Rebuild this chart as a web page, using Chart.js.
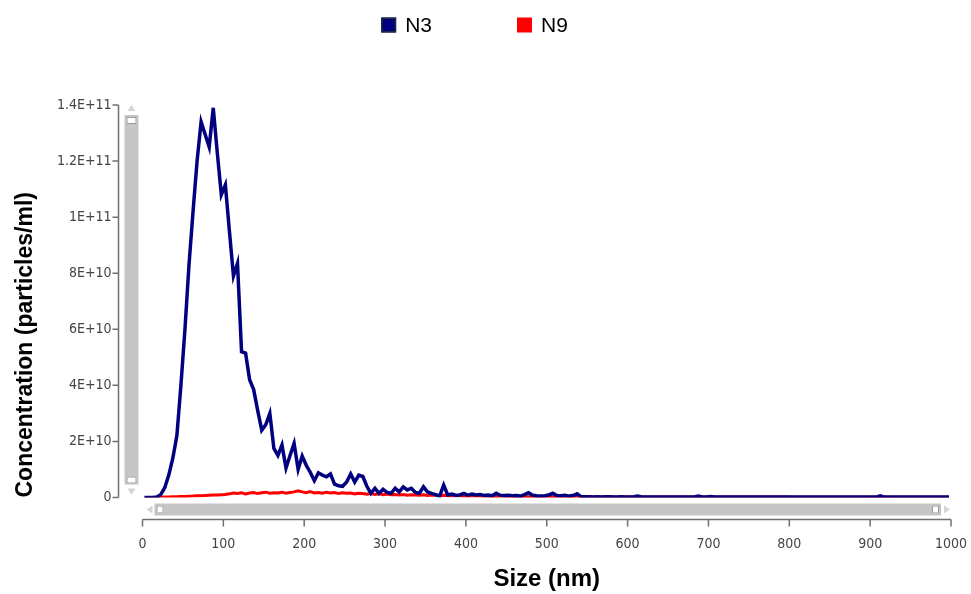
<!DOCTYPE html>
<html>
<head>
<meta charset="utf-8">
<script src="https://cdn.jsdelivr.net/npm/chart.js@4"></script>
<style>
  html, body { margin: 0; padding: 0; background: #fff; }
  #wrap { width: 971px; height: 594px; }
</style>
</head>
<body>
<div id="wrap"><canvas id="myChart" width="971" height="594"></canvas></div>
<script>
// Size bins (nm, bin centres)
const sizes = [
  2.5, 7.5, 12.5, 17.5, 22.5, 27.5, 32.5, 37.5, 42.5, 47.5, 52.5, 57.5, 62.5, 67.5, 72.5, 77.5, 82.5, 87.5, 92.5, 97.5,
  102.5, 107.5, 112.5, 117.5, 122.5, 127.5, 132.5, 137.5, 142.5, 147.5, 152.5, 157.5, 162.5, 167.5, 172.5, 177.5, 182.5, 187.5, 192.5, 197.5,
  202.5, 207.5, 212.5, 217.5, 222.5, 227.5, 232.5, 237.5, 242.5, 247.5, 252.5, 257.5, 262.5, 267.5, 272.5, 277.5, 282.5, 287.5, 292.5, 297.5,
  302.5, 307.5, 312.5, 317.5, 322.5, 327.5, 332.5, 337.5, 342.5, 347.5, 352.5, 357.5, 362.5, 367.5, 372.5, 377.5, 382.5, 387.5, 392.5, 397.5,
  402.5, 407.5, 412.5, 417.5, 422.5, 427.5, 432.5, 437.5, 442.5, 447.5, 452.5, 457.5, 462.5, 467.5, 472.5, 477.5, 482.5, 487.5, 492.5, 497.5,
  502.5, 507.5, 512.5, 517.5, 522.5, 527.5, 532.5, 537.5, 542.5, 547.5, 552.5, 557.5, 562.5, 567.5, 572.5, 577.5, 582.5, 587.5, 592.5, 597.5,
  602.5, 607.5, 612.5, 617.5, 622.5, 627.5, 632.5, 637.5, 642.5, 647.5, 652.5, 657.5, 662.5, 667.5, 672.5, 677.5, 682.5, 687.5, 692.5, 697.5,
  702.5, 707.5, 712.5, 717.5, 722.5, 727.5, 732.5, 737.5, 742.5, 747.5, 752.5, 757.5, 762.5, 767.5, 772.5, 777.5, 782.5, 787.5, 792.5, 797.5,
  802.5, 807.5, 812.5, 817.5, 822.5, 827.5, 832.5, 837.5, 842.5, 847.5, 852.5, 857.5, 862.5, 867.5, 872.5, 877.5, 882.5, 887.5, 892.5, 897.5,
  902.5, 907.5, 912.5, 917.5, 922.5, 927.5, 932.5, 937.5, 942.5, 947.5, 952.5, 957.5, 962.5, 967.5, 972.5, 977.5, 982.5, 987.5, 992.5, 997.5
];

// Concentration in units of 1E+9 particles/ml
const n3 = [
  0, 0, 0, 0.2, 1, 3.5, 8, 14, 22, 40, 60, 83, 102, 120, 134, 129.5, 125, 139, 123, 108,
  111.5, 95, 79, 83.5, 52, 51.5, 42, 38.5, 31, 24, 26, 30, 17.5, 15, 18.7, 10.5, 15, 19.3, 10, 14.8,
  11.5, 9, 6, 8.8, 8, 7.4, 8.4, 4.8, 4.2, 4, 5.5, 8.4, 5.5, 8, 7.5, 4, 1.5, 3.3, 1.5, 2.9,
  1.8, 1.5, 3.3, 2, 3.8, 2.7, 3.3, 1.8, 1.5, 3.8, 2, 1.5, 1, 0.5, 4.4, 0.9, 1.2, 0.8, 0.9, 1.5,
  0.8, 1.2, 0.9, 1.1, 0.7, 0.9, 0.6, 1.5, 0.8, 0.7, 0.8, 0.6, 0.7, 0.5, 1.0, 1.7, 0.8, 0.6, 0.5, 0.6,
  0.9, 1.5, 0.7, 0.6, 0.8, 0.5, 0.7, 1.3, 0.3, 0.25, 0.3, 0.2, 0.3, 0.2, 0.25, 0.3, 0.2, 0.2, 0.3, 0.2,
  0.2, 0.3, 0.5, 0.2, 0.2, 0.15, 0.2, 0.2, 0.15, 0.2, 0.2, 0.15, 0.2, 0.15, 0.2, 0.15, 0.2, 0.5, 0.2, 0.15,
  0.35, 0.15, 0.15, 0.15, 0.2, 0.15, 0.15, 0.15, 0.15, 0.15, 0.15, 0.15, 0.15, 0.15, 0.15, 0.15, 0.15, 0.15, 0.15, 0.15,
  0.15, 0.15, 0.15, 0.15, 0.15, 0.15, 0.15, 0.15, 0.15, 0.15, 0.15, 0.15, 0.15, 0.15, 0.15, 0.15, 0.15, 0.15, 0.15, 0.15,
  0.15, 0.15, 0.6, 0.15, 0.15, 0.15, 0.15, 0.15, 0.15, 0.15, 0.15, 0.15, 0.15, 0.15, 0.15, 0.15, 0.15, 0.15, 0.15, 0.15
];

const n9 = [
  0, 0, 0, 0, 0.1, 0.15, 0.2, 0.25, 0.3, 0.35, 0.4, 0.45, 0.5, 0.6, 0.6, 0.7, 0.8, 0.9, 0.9, 1.0,
  1.1, 1.3, 1.6, 1.4, 1.7, 1.3, 1.6, 1.8, 1.4, 1.7, 1.9, 1.5, 1.7, 1.6, 1.9, 1.5, 1.8, 2.0, 2.4, 2.0,
  1.7, 2.1, 1.6, 1.8, 1.5, 1.9, 1.6, 1.8, 1.4, 1.7, 1.5, 1.6, 1.3, 1.5, 1.4, 1.2, 1.4, 1.1, 1.3, 1.0,
  1.2, 1.0, 1.1, 0.9, 1.1, 0.8, 1.0, 0.9, 0.8, 1.0, 0.7, 0.9, 0.8, 0.7, 0.8, 0.6, 0.7, 0.6, 0.7, 0.5,
  0.6, 0.5, 0.6, 0.5, 0.5, 0.4, 0.5, 0.4, 0.5, 0.4, 0.4, 0.35, 0.4, 0.3, 0.35, 0.3, 0.35, 0.3, 0.3, 0.25,
  0.3, 0.25, 0.25, 0.3, 0.2, 0.25, 0.2, 0.25, 0.2, 0.2, 0.25, 0.2, 0.2, 0.2, 0.15, 0.2, 0.2, 0.15, 0.2, 0.15,
  0.15, 0.2, 0.15, 0.15, 0.15, 0.2, 0.15, 0.15, 0.15, 0.15, 0.2, 0.15, 0.15, 0.15, 0.15, 0.15, 0.15, 0.2, 0.15, 0.15,
  0.15, 0.15, 0.15, 0.15, 0.15, 0.15, 0.15, 0.15, 0.15, 0.15, 0.15, 0.15, 0.15, 0.15, 0.15, 0.15, 0.15, 0.15, 0.15, 0.15,
  0.1, 0.1, 0.1, 0.1, 0.1, 0.1, 0.1, 0.1, 0.1, 0.1, 0.1, 0.1, 0.1, 0.1, 0.1, 0.1, 0.1, 0.1, 0.1, 0.1,
  0.1, 0.1, 0.1, 0.1, 0.1, 0.1, 0.1, 0.1, 0.1, 0.1, 0.1, 0.1, 0.1, 0.1, 0.1, 0.1, 0.1, 0.1, 0.1, 0.1
];

const yTickLabels = ['0', '2E+10', '4E+10', '6E+10', '8E+10', '1E+11', '1.2E+11', '1.4E+11'];
const xTickLabels = ['0', '100', '200', '300', '400', '500', '600', '700', '800', '900', '1000'];

const tickFont = { family: '"Liberation Sans Narrow", "DejaVu Sans Condensed", sans-serif', size: 14 };
const titleFont = { family: '"Liberation Sans", Arial, sans-serif', size: 23, weight: 'bold' };

// legend, scrollbars and offset axis lines
const decor = {
  id: 'decor',
  afterDraw(chart) {
    const c = chart.ctx;
    const ca = chart.chartArea;
    const xs = chart.scales.x;
    const ys = chart.scales.y;
    c.save();

    // vertical scrollbar
    const vx = ca.left - 18, vw = 14;
    c.fillStyle = '#c6c6c6';
    c.fillRect(vx, ca.top + 10, vw, ca.bottom - ca.top - 23);
    c.fillStyle = '#d4d4d4';
    c.beginPath();
    c.moveTo(vx + 3, ca.top + 6); c.lineTo(vx + vw - 3, ca.top + 6); c.lineTo(vx + vw / 2, ca.top); c.fill();
    c.beginPath();
    c.moveTo(vx + 3, ca.bottom - 9); c.lineTo(vx + vw - 3, ca.bottom - 9); c.lineTo(vx + vw / 2, ca.bottom - 3); c.fill();
    c.fillStyle = '#fff';
    c.strokeStyle = '#9a9a9a';
    c.lineWidth = 1;
    c.fillRect(vx + 2, ca.top + 12, vw - 4, 7);
    c.strokeRect(vx + 2.5, ca.top + 12.5, vw - 5, 6);
    c.fillRect(vx + 2, ca.bottom - 21, vw - 4, 7);
    c.strokeRect(vx + 2.5, ca.bottom - 20.5, vw - 5, 6);

    // horizontal scrollbar
    const hy = ca.bottom + 6, hh = 12;
    c.fillStyle = '#c6c6c6';
    c.fillRect(ca.left + 12, hy, ca.right - ca.left - 22, hh);
    c.fillStyle = '#d4d4d4';
    c.beginPath();
    c.moveTo(ca.left + 10, hy + 2); c.lineTo(ca.left + 10, hy + hh - 2); c.lineTo(ca.left + 4, hy + hh / 2); c.fill();
    c.beginPath();
    c.moveTo(ca.right - 7, hy + 2); c.lineTo(ca.right - 7, hy + hh - 2); c.lineTo(ca.right - 1, hy + hh / 2); c.fill();
    c.fillStyle = '#fff';
    c.fillRect(ca.left + 14, hy + 2, 7, hh - 4);
    c.strokeRect(ca.left + 14.5, hy + 2.5, 6, hh - 5);
    c.fillRect(ca.right - 19, hy + 2, 7, hh - 4);
    c.strokeRect(ca.right - 18.5, hy + 2.5, 6, hh - 5);

    // axis lines with ticks
    c.strokeStyle = '#707070';
    c.lineWidth = 1.5;
    const ax = ca.left - 24;
    c.beginPath();
    c.moveTo(ax, ys.top); c.lineTo(ax, ys.bottom);
    ys.ticks.forEach(t => {
      const py = ys.getPixelForValue(t.value);
      c.moveTo(ax - 6, py); c.lineTo(ax, py);
    });
    const ay = ca.bottom + 22;
    c.moveTo(xs.left, ay); c.lineTo(xs.right, ay);
    xs.ticks.forEach(t => {
      const px = xs.getPixelForValue(t.value);
      c.moveTo(px, ay); c.lineTo(px, ay + 7);
    });
    c.stroke();

    // legend
    const items = chart.data.datasets;
    c.font = '21px "Liberation Sans", Arial, sans-serif';
    c.textBaseline = 'middle';
    const box = 15, gap = 9, spacing = 85;
    const widths = items.map(d => box + gap + c.measureText(d.label).width);
    const total = widths.reduce((a, b) => a + b, 0) + spacing * (items.length - 1);
    let lx = chart.width / 2 - 11 - total / 2;
    const ly = 25;
    items.forEach((d, i) => {
      c.fillStyle = d.borderColor;
      c.fillRect(lx, ly - box / 2, box, box);
      if (i === 0) {
        c.strokeStyle = '#1d2b3c';
        c.lineWidth = 1.5;
        c.strokeRect(lx + 0.75, ly - box / 2 + 0.75, box - 1.5, box - 1.5);
      }
      c.fillStyle = '#000';
      c.fillText(d.label, lx + box + gap, ly + 1);
      lx += widths[i] + spacing;
    });

    c.restore();
  }
};

const ctx = document.getElementById('myChart');

new Chart(ctx, {
  type: 'line',
  data: {
    datasets: [
      {
        label: 'N3',
        data: sizes.map((s, i) => ({ x: s, y: n3[i] })),
        borderColor: '#000080',
        backgroundColor: '#000080',
        borderWidth: 3.5,
        pointRadius: 0,
        tension: 0
      },
      {
        label: 'N9',
        data: sizes.map((s, i) => ({ x: s, y: n9[i] })),
        borderColor: '#ff0000',
        backgroundColor: '#ff0000',
        borderWidth: 3,
        pointRadius: 0,
        tension: 0
      }
    ]
  },
  options: {
    responsive: false,
    animation: false,
    layout: { padding: { top: 105, right: 20, bottom: 0, left: 0 } },
    plugins: {
      legend: { display: false },
      tooltip: { enabled: false }
    },
    scales: {
      x: {
        type: 'linear',
        min: 0,
        max: 1000,
        ticks: {
          stepSize: 100,
          padding: 38,
          color: '#444',
          font: tickFont,
          maxRotation: 0,
          callback: (v, i) => xTickLabels[i]
        },
        grid: { display: false, drawTicks: false },
        border: { display: false },
        title: { display: true, text: 'Size (nm)', color: '#000', font: { ...titleFont, size: 24 }, padding: { top: 0, bottom: 0 } },
        afterFit: (scale) => {
          scale.height = 96.5;
          scale.paddingLeft = 0;
          scale.paddingRight = 0;
        }
      },
      y: {
        min: 0,
        max: 140,
        ticks: {
          stepSize: 20,
          padding: 31,
          color: '#444',
          font: tickFont,
          callback: (v, i) => yTickLabels[i]
        },
        grid: { display: false, drawTicks: false },
        border: { display: false },
        title: { display: true, text: 'Concentration (particles/ml)', align: 'start', color: '#000', font: titleFont, padding: { top: 12, bottom: 0 } },
        afterFit: (scale) => { scale.width = 142.5; }
      }
    }
  },
  plugins: [decor]
});
</script>
</body>
</html>
